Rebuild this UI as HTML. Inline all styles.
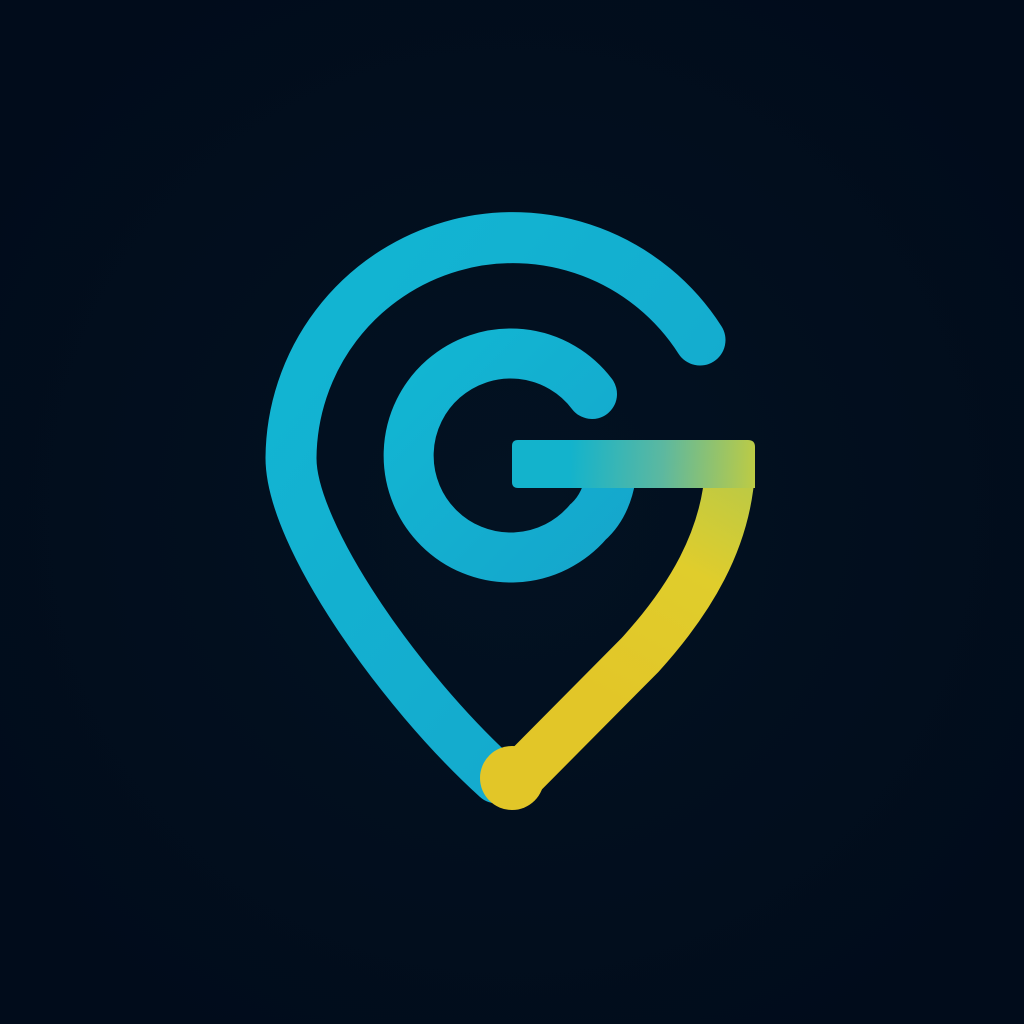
<!DOCTYPE html>
<html><head><meta charset="utf-8"><style>
html,body{margin:0;padding:0;background:#020e1e;}
svg{display:block}
</style></head><body>
<svg width="1024" height="1024" viewBox="0 0 1024 1024">
<defs>
<radialGradient id="bg" cx="50%" cy="50%" r="60%">
<stop offset="0" stop-color="#031222"/><stop offset="1" stop-color="#010c1b"/>
</radialGradient>
<linearGradient id="cy" x1="0" y1="0" x2="1" y2="1">
<stop offset="0" stop-color="#12b6d3"/><stop offset="1" stop-color="#15a7cc"/>
</linearGradient>
<linearGradient id="bar" gradientUnits="userSpaceOnUse" x1="570" y1="460" x2="755" y2="470">
<stop offset="0" stop-color="#13b3cc"/><stop offset="0.5" stop-color="#5cb8a0"/><stop offset="1" stop-color="#bccb45"/>
</linearGradient>
<linearGradient id="yl" gradientUnits="userSpaceOnUse" x1="740" y1="450" x2="600" y2="700">
<stop offset="0" stop-color="#b4c94a"/><stop offset="0.45" stop-color="#e0cd2c"/><stop offset="1" stop-color="#e2c628"/>
</linearGradient>
</defs>
<rect width="1024" height="1024" fill="url(#bg)"/>
<path d="M 700,340 A 222 222 0 0 0 291,458 C 291,535 400,690 497,778" fill="none" stroke="url(#cy)" stroke-width="51" stroke-linecap="round" stroke-linejoin="round"/>
<path d="M 730,470 C 726,540 690,600 640,655 L 518,778" fill="none" stroke="url(#yl)" stroke-width="50" stroke-linecap="round"/>
<path d="M 592,394 A 102 102 0 1 0 588,522 Q 606,506 611,476" fill="none" stroke="url(#cy)" stroke-width="50" stroke-linecap="round"/>
<path d="M 518,440 L 748,440 Q 755,440 755,447 L 755,488 L 518,488 Q 512,488 512,482 L 512,446 Q 512,440 518,440 Z" fill="url(#bar)"/>
<circle cx="512" cy="778" r="32" fill="#e2c628"/>
</svg>
</body></html>
